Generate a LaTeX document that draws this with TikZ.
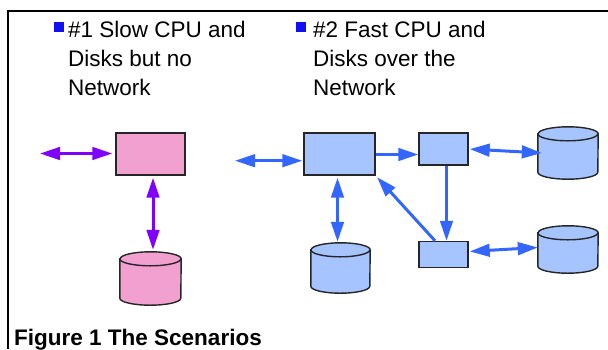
\documentclass[tikz,border=0pt]{standalone}
\usepackage{fontspec}
\setmainfont{Liberation Sans}
\usetikzlibrary{arrows.meta}

\definecolor{pinkfill}{HTML}{F2A0D0}
\definecolor{bluefill}{HTML}{A6C4FF}
\definecolor{bluearrow}{HTML}{3366FF}
\definecolor{violetarrow}{HTML}{8000FF}
\definecolor{bulletblue}{HTML}{1010F0}

% disk drum: name, centre, width, height, fill
\newcommand{\disk}[5]{%
  \node[rectangle, inner sep=0pt, minimum width=#3, minimum height=#4] (#1) at (#2) {};
  \draw[diskline, fill=#5] ([yshift=-7pt]#1.north west) -- ([yshift=7pt]#1.south west)
    arc[start angle=180, end angle=360, x radius=#3/2, y radius=7pt]
    -- ([yshift=-7pt]#1.north east)
    arc[start angle=0, end angle=180, x radius=#3/2, y radius=7pt] -- cycle;
  \draw[diskline] ([yshift=-7pt]#1.north west)
    arc[start angle=180, end angle=360, x radius=#3/2, y radius=7pt];
}

\begin{document}
\begin{tikzpicture}[
    x=1pt, y=-1pt,
    >={Triangle[length=20pt, width=12.5pt]},
    box/.style={rectangle, draw=black!85, line width=1.4pt, inner sep=0pt},
    diskline/.style={draw=black!85, line width=1.4pt},
    link/.style={line width=3pt, draw=bluearrow},
    plink/.style={line width=3pt, draw=violetarrow},
    label/.style={anchor=north west, align=left, inner sep=0pt,
      font=\fontsize{22.5}{29}\selectfont},
    bullet/.style={fill=bulletblue, minimum size=10pt, inner sep=0pt}
  ]
    \useasboundingbox (0,0) rectangle (608,349);
    \draw[line width=2pt] (8,349) -- (8,11) -- (608,11);

    % headings
    \node[bullet] (b1) at (59,27) {};
    \node[label] (t1) at (68,20.9) {\#1 Slow CPU and\\Disks but no\\Network};
    \node[bullet] (b2) at (301,27) {};
    \node[label] (t2) at (313,20.9) {\#2 Fast CPU and\\Disks over the\\Network};

    % scenario 1
    \node[box, fill=pinkfill, minimum width=69pt, minimum height=42pt] (slowcpu) at (150.5,154) {};
    \disk{slowdisk}{150.5,278.5}{61pt}{53pt}{pinkfill}
    \coordinate (slowin) at (40,153.5);

    \draw[plink, <->, shorten >=3pt] (slowin) -- (slowcpu.west |- slowin);
    \draw[plink, <->, shorten <=2pt, shorten >=2pt] ([xshift=2.5pt]slowcpu.south) -- ([xshift=2.5pt]slowdisk.north);

    % scenario 2
    \node[box, fill=bluefill, minimum width=71pt, minimum height=42pt] (fastcpu) at (339.5,154) {};
    \node[box, fill=bluefill, minimum width=49pt, minimum height=32pt] (net1) at (443.5,149) {};
    \node[box, fill=bluefill, minimum width=49pt, minimum height=26pt] (net2) at (443.5,254.5) {};
    \disk{localdisk}{340.5,268}{59pt}{50pt}{bluefill}
    \disk{netdisk1}{568,153}{60pt}{52pt}{bluefill}
    \disk{netdisk2}{568,249.5}{60pt}{47pt}{bluefill}
    \coordinate (fastin) at (235,160.7);

    \draw[link, <->, shorten >=1pt] (fastin) -- (fastcpu.west |- fastin);
    \draw[link, ->] ([yshift=-0.5pt]fastcpu.east) -- ([yshift=-0.5pt]fastcpu.east -| net1.west);
    \draw[link, <->, shorten <=1pt] (net1.east) -- ([xshift=4pt]netdisk1.west);
    \draw[link, ->] ([xshift=3pt]net1.south) -- ([xshift=3pt]net2.north);
    \draw[link, ->, shorten >=2pt] ([xshift=-8.5pt]net2.north) -- (fastcpu.south east);
    \draw[link, <->, shorten <=1pt] ([yshift=3pt]net2.east) -- ([yshift=2pt]netdisk2.west);
    \draw[link, <->, shorten <=2pt, shorten >=1pt] ([xshift=-2pt]fastcpu.south) -- ([xshift=-3pt]localdisk.north);

    % caption
    \node[anchor=base west, inner sep=0pt, font=\fontsize{22.5}{27}\selectfont\bfseries] (caption) at (14,345.5) {Figure 1 The Scenarios};
  \end{tikzpicture}
\end{document}
